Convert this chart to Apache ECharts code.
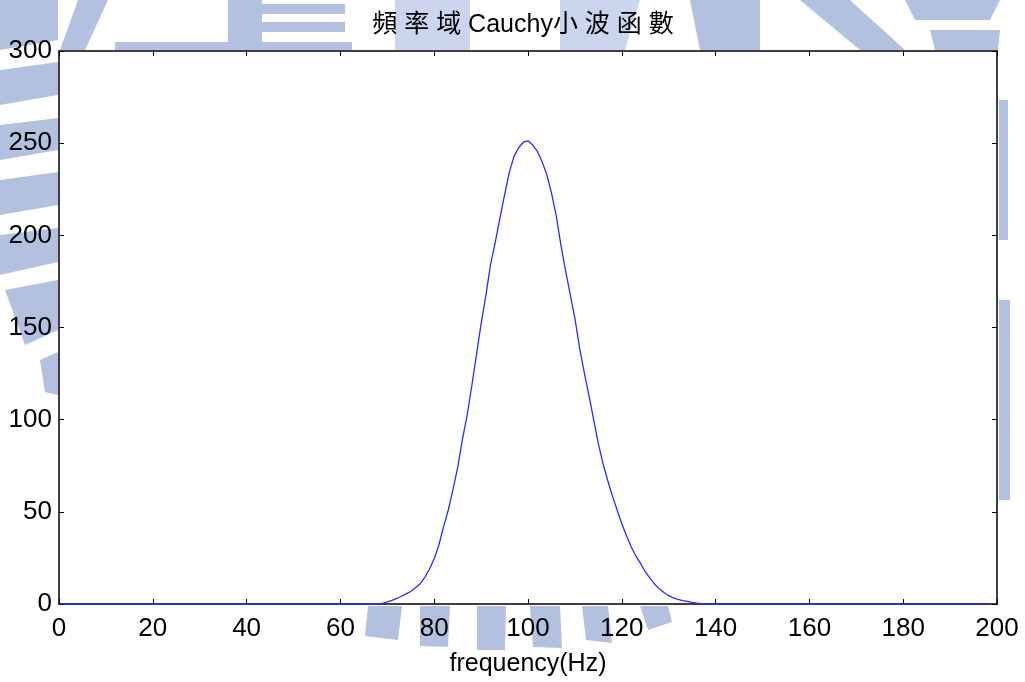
<!DOCTYPE html>
<html>
<head>
<meta charset="utf-8">
<script src="https://cdn.jsdelivr.net/npm/echarts@6/dist/echarts.min.js"></script>
<style>
html,body{margin:0;padding:0;background:#fff;}
#chart{width:1025px;height:682px;}
</style>
</head>
<body>
<div id="chart"></div>
<script>
// ---- data ----
var titleText = '頻 率 域 Cauchy小 波 函 數';
var xAxisName = 'frequency(Hz)';
var xTicks = [0, 20, 40, 60, 80, 100, 120, 140, 160, 180, 200];
var yTicks = [0, 50, 100, 150, 200, 250, 300];

var freqHz = [0, 68, 69, 70, 71, 72, 73, 74, 75, 76, 77, 78, 79, 80, 81, 82, 83, 84, 85, 86, 87, 88, 89,
  90, 91, 92, 93, 94, 95, 96, 97, 98, 99, 100, 101, 102, 103, 104, 105, 106, 107, 108, 109, 110,
  111, 112, 113, 114, 115, 116, 117, 118, 119, 120, 121, 122, 123, 124, 125, 126, 127, 128, 129,
  130, 131, 132, 133, 134, 135, 136, 137, 138, 198];
var amplitude = [0, 0, 0.3, 1.2, 2, 3, 4.2, 5.5, 6.8, 8.8, 11, 14.5, 19, 24.5, 32, 42, 51, 62, 74, 89, 102, 118, 135,
  152, 167, 184, 196, 209, 222, 234, 242.7, 247.5, 250.5, 251.3, 249, 245.5, 240, 233, 223, 211, 195, 181, 168, 155,
  139, 125.5, 113, 100, 87, 76, 67, 58.5, 51, 43.5, 37, 31, 26, 22, 17.5, 14, 10.8, 8.3, 6.2,
  4.5, 3.3, 2.5, 1.8, 1.4, 0.9, 0.5, 0.2, 0, 0];

var seriesData = freqHz.map(function (f, i) { return [f, amplitude[i]]; });

// ---- decorative watermark (background of the scanned page) ----
var wm = '#b3c1e1';
function poly(pts, fill) {
  return { type: 'polygon', z: -10, silent: true, shape: { points: pts }, style: { fill: fill || wm } };
}
var watermark = [
  // left edge stripes
  poly([[0,0],[58,0],[58,40],[0,50]]),
  poly([[0,70],[58,62],[58,95],[0,105]]),
  poly([[0,125],[58,118],[58,150],[0,160]]),
  poly([[0,180],[58,172],[58,205],[0,215]]),
  poly([[0,235],[58,228],[58,262],[0,275]]),
  poly([[5,290],[58,280],[58,330],[25,345]]),
  poly([[40,360],[58,352],[58,395],[45,392]]),
  // big arc on upper left
  poly([[78,0],[108,0],[85,50],[60,50]]),
  // top bars
  poly([[115,42],[352,42],[352,50],[115,50]]),
  poly([[228,0],[262,0],[262,42],[228,42]]),
  poly([[262,4],[345,4],[345,14],[262,14]]),
  poly([[262,22],[345,22],[345,32],[262,32]]),
  poly([[395,0],[470,0],[470,50],[395,50]], '#cbd5ed'),
  poly([[560,0],[640,0],[625,50],[560,50]], '#cbd5ed'),
  poly([[690,0],[760,0],[760,50],[700,50]]),
  poly([[800,0],[850,0],[905,50],[860,50]]),
  poly([[905,0],[1000,0],[990,20],[915,20]]),
  poly([[930,30],[1000,30],[998,50],[935,50]]),
  // right edge
  poly([[999,100],[1008,100],[1008,240],[999,240]]),
  poly([[999,300],[1010,300],[1010,500],[999,500]]),
  // bottom slanted blocks
  poly([[368,606],[402,606],[398,640],[365,636]]),
  poly([[420,606],[450,606],[448,647],[420,646]]),
  poly([[477,606],[506,606],[505,650],[477,650]]),
  poly([[530,606],[560,606],[562,648],[533,647]]),
  poly([[582,606],[608,606],[612,643],[586,640]]),
  poly([[640,606],[668,606],[672,622],[648,630]])
];

var chart = echarts.init(document.getElementById('chart'), null, { renderer: 'canvas' });
var fontFam = '"Liberation Sans", Arial, "Noto Sans CJK TC", sans-serif';

var tickStyle = { show: true, inside: true, length: 5, lineStyle: { color: '#000', width: 1 } };
var lineStyle = { show: true, onZero: false, lineStyle: { color: '#000', width: 1.5 } };

chart.setOption({
  backgroundColor: '#ffffff',
  animation: false,
  graphic: watermark,
  title: {
    text: titleText,
    left: 518,
    textAlign: 'center',
    top: 8,
    textStyle: { fontFamily: fontFam, fontSize: 25, fontWeight: 'normal', color: '#000' }
  },
  grid: {
    left: 59, right: 28, top: 51, bottom: 78,
    show: true, backgroundColor: '#ffffff', borderWidth: 0
  },
  xAxis: [{
    type: 'value', min: xTicks[0], max: xTicks[xTicks.length - 1], interval: 20,
    position: 'bottom',
    name: xAxisName, nameLocation: 'middle', nameGap: 48,
    nameTextStyle: { fontFamily: fontFam, fontSize: 25, color: '#000' },
    axisLine: lineStyle, axisTick: tickStyle,
    axisLabel: { fontFamily: fontFam, fontSize: 26, color: '#000', margin: 12 },
    splitLine: { show: false }
  }, {
    type: 'value', min: xTicks[0], max: xTicks[xTicks.length - 1], interval: 20,
    position: 'top',
    axisLine: lineStyle, axisTick: tickStyle,
    axisLabel: { show: false }, splitLine: { show: false }
  }],
  yAxis: [{
    type: 'value', min: yTicks[0], max: yTicks[yTicks.length - 1], interval: 50,
    position: 'left',
    axisLine: lineStyle, axisTick: tickStyle,
    axisLabel: { fontFamily: fontFam, fontSize: 26, color: '#000', margin: 7 },
    splitLine: { show: false }
  }, {
    type: 'value', min: yTicks[0], max: yTicks[yTicks.length - 1], interval: 50,
    position: 'right',
    axisLine: lineStyle, axisTick: tickStyle,
    axisLabel: { show: false }, splitLine: { show: false }
  }],
  series: [{
    type: 'line',
    xAxisIndex: 0, yAxisIndex: 0,
    data: seriesData,
    showSymbol: false,
    smooth: false,
    lineStyle: { color: '#2a2aff', width: 1.3 },
    z: 1
  }]
});
</script>
</body>
</html>
